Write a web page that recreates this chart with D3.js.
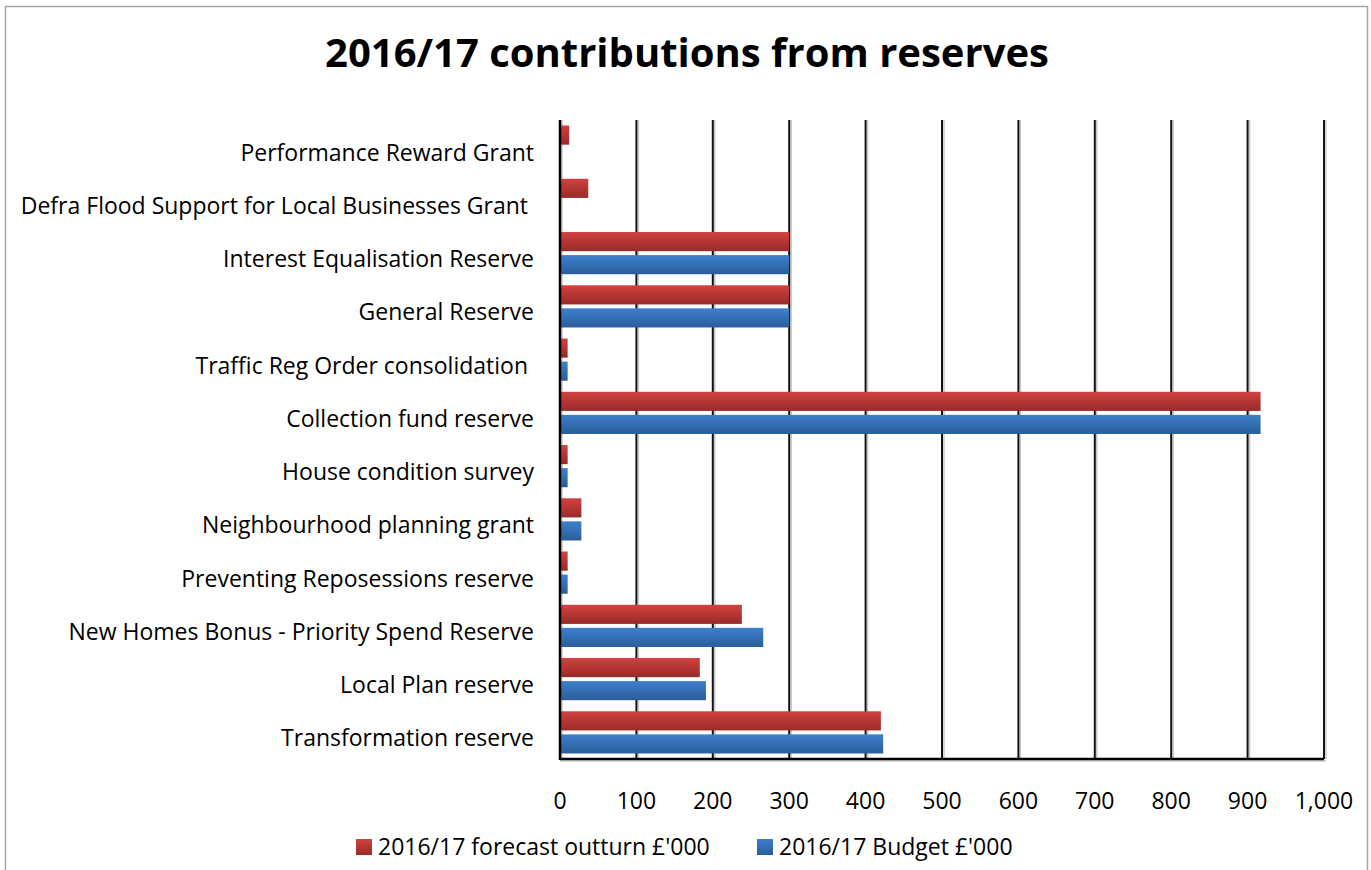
<!DOCTYPE html>
<html>
<head>
<meta charset="utf-8">
<script src="https://cdn.jsdelivr.net/npm/d3@7"></script>
<style>
  body { margin: 0; background: #fff; }
  svg text { font-family: "Open Sans", sans-serif; white-space: pre; }
</style>
</head>
<body>
<div id="chart"></div>
<script>
// chart data, top row first
var categories = ["Performance Reward Grant", "Defra Flood Support for Local Businesses Grant ",
  "Interest Equalisation Reserve", "General Reserve", "Traffic Reg Order consolidation ",
  "Collection fund reserve", "House condition survey", "Neighbourhood planning grant",
  "Preventing Reposessions reserve", "New Homes Bonus - Priority Spend Reserve",
  "Local Plan reserve", "Transformation reserve"];
var forecast = [12, 37, 300, 300, 10, 917, 10, 28, 10, 238, 183, 420];
var budget = [null, null, 300, 300, 10, 917, 10, 28, 10, 266, 191, 423];
var seriesNames = ["2016/17 forecast outturn £'000", "2016/17 Budget £'000"];
var xTicks = [0, 100, 200, 300, 400, 500, 600, 700, 800, 900, 1000];

var W = 1371, H = 870;
var margin = {top: 120, right: 47, bottom: 111, left: 560};
var width = W - margin.left - margin.right,
    height = H - margin.top - margin.bottom;

var svg = d3.select("#chart").append("svg").attr("width", W).attr("height", H);

// gradients like the office bars
var defs = svg.append("defs");
function grad(id, top, bottom) {
  var g = defs.append("linearGradient").attr("id", id)
    .attr("x1", 0).attr("y1", 0).attr("x2", 0).attr("y2", 1);
  g.append("stop").attr("offset", "0%").attr("stop-color", top);
  g.append("stop").attr("offset", "100%").attr("stop-color", bottom);
}
grad("gRed", "#d2413f", "#982b29");
grad("gBlue", "#3e80cd", "#2a5d9a");
var fills = ["url(#gRed)", "url(#gBlue)"];

// frame
svg.append("rect").attr("x", 5.5).attr("y", 6.5).attr("width", 1362).attr("height", 900)
  .attr("fill", "none").attr("stroke", "#a6a6a6").attr("stroke-width", 1.5);

svg.append("text")
  .attr("x", 687).attr("y", 67)
  .attr("text-anchor", "middle")
  .attr("font-size", 40).attr("font-weight", "bold")
  .text("2016/17 contributions from reserves");

var g = svg.append("g").attr("transform", "translate(" + margin.left + "," + margin.top + ")");

var x = d3.scaleLinear().domain([0, 1000]).range([0, width]);
var y = d3.scaleBand().domain(categories).range([0, height]).padding(0);
var ySub = d3.scaleBand().domain([0, 1]).range([0, y.bandwidth()])
  .paddingInner(0.17).paddingOuter(0.24);

// gridlines with a soft shadow
var grid = g.append("g");
grid.selectAll("line.shadow").data(xTicks).enter().append("line")
  .attr("x1", function(d) { return x(d) + 2; }).attr("x2", function(d) { return x(d) + 2; })
  .attr("y1", 0).attr("y2", height)
  .attr("stroke", "#c8c8c8").attr("stroke-width", 1.5);
grid.selectAll("line.main").data(xTicks).enter().append("line")
  .attr("x1", function(d) { return x(d); }).attr("x2", function(d) { return x(d); })
  .attr("y1", 0).attr("y2", height)
  .attr("stroke", "#111").attr("stroke-width", 2);

// bars
[forecast, budget].forEach(function(vals, s) {
  g.append("g").selectAll("rect")
    .data(vals.map(function(v, i) { return {cat: categories[i], v: v}; })
      .filter(function(d) { return d.v != null; }))
    .enter().append("rect")
      .attr("x", x(0) + 1)
      .attr("y", function(d) { return y(d.cat) + ySub(s); })
      .attr("width", function(d) { return x(d.v) - x(0) - 1; })
      .attr("height", ySub.bandwidth())
      .attr("fill", fills[s]);
});

// axes lines
g.append("line").attr("x1", 0).attr("x2", 0).attr("y1", 0).attr("y2", height + 1)
  .attr("stroke", "#000").attr("stroke-width", 2.5);
g.append("line").attr("x1", 0).attr("x2", width + 2).attr("y1", height + 2).attr("y2", height + 2)
  .attr("stroke", "#c8c8c8").attr("stroke-width", 1.5);
g.append("line").attr("x1", 0).attr("x2", width).attr("y1", height).attr("y2", height)
  .attr("stroke", "#000").attr("stroke-width", 2.5);

// x tick labels
g.append("g").selectAll("text").data(xTicks).enter().append("text")
  .attr("x", function(d) { return x(d); })
  .attr("y", height + 50)
  .attr("text-anchor", "middle")
  .attr("font-size", 23)
  .text(function(d) { return d3.format(",")(d); });

// category labels
g.append("g").selectAll("text").data(categories).enter().append("text")
  .attr("x", -26)
  .attr("y", function(d) { return y(d) + y.bandwidth() / 2 + 14; })
  .attr("text-anchor", "end")
  .attr("font-size", 23)
  .text(function(d) { return d; });

// legend
var legend = svg.append("g").selectAll("g").data(seriesNames).enter().append("g")
  .attr("transform", function(d, i) { return "translate(" + (i === 0 ? 356 : 757) + ",839)"; });
legend.append("rect").attr("width", 16).attr("height", 16)
  .attr("fill", function(d, i) { return fills[i]; });
legend.append("text").attr("x", 22).attr("y", 16)
  .attr("font-size", 23)
  .text(function(d) { return d; });
</script>
</body>
</html>
